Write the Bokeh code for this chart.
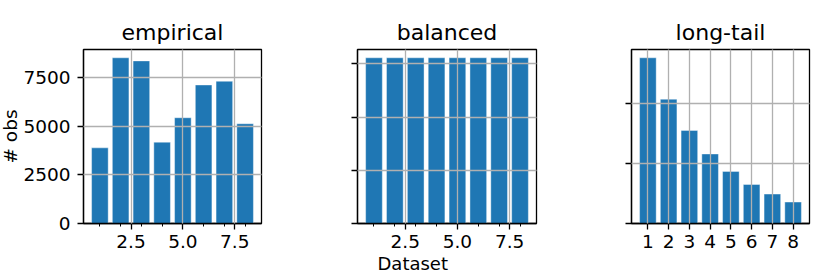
from bokeh.plotting import figure
from bokeh.layouts import row
from bokeh.models import Range1d, FixedTicker, PrintfTickFormatter, CustomJSTickFormatter, Title
from bokeh.embed import file_html
from bokeh.resources import INLINE

datasets = [1, 2, 3, 4, 5, 6, 7, 8]
empirical = [3880, 8500, 8340, 4170, 5425, 7105, 7295, 5117]
balanced = [6230, 6230, 6230, 6230, 6230, 6230, 6230, 6230]
long_tail = [13800, 10350, 7750, 5790, 4340, 3250, 2450, 1785]

titles = ["empirical", "balanced", "long-tail"]
y_ticks = [[0, 2500, 5000, 7500], [0, 2000, 4000, 6000], [0, 5000, 10000]]
x_major_ab = [2.5, 5.0, 7.5]
y_label = "# obs"
x_label = "Dataset"

FONT = "DejaVu Sans"
BAR = "#1f77b4"
GRID = "#b0b0b0"

# (fig width, left border, right border)
geom = [(304, 87, 39), (280, 57, 44), (250, 51, 21)]
H = 277
TOP, BOTTOM = 49, 54


def make(i, values):
    w, bl, br = geom[i]
    p = figure(width=w, height=H, output_backend="svg", toolbar_location=None,
               min_border_left=bl, min_border_right=br,
               min_border_top=TOP, min_border_bottom=BOTTOM,
               x_range=Range1d(0.21, 8.79),
               y_range=Range1d(0, max(values) * 1.05))
    p.vbar(x=datasets, top=values, width=0.8, fill_color=BAR,
           line_color="white", line_width=0.8, line_alpha=0.5)
    p.title.text = titles[i]
    p.title.align = "center"
    p.title.text_font = FONT
    p.title.text_font_size = "22px"
    p.title.text_font_style = "normal"
    p.title.text_color = "black"
    p.title.standoff = 9

    p.outline_line_color = "black"
    p.outline_line_width = 1.3
    p.outline_line_alpha = 1

    for ax in (p.xaxis[0], p.yaxis[0]):
        ax.axis_line_color = "black"
        ax.axis_line_width = 1.3
        ax.major_tick_line_color = "black"
        ax.major_tick_line_width = 1.3
        ax.major_tick_in = 0
        ax.major_tick_out = 6
        ax.minor_tick_line_color = "black"
        ax.minor_tick_line_width = 1.0
        ax.minor_tick_in = 0
        ax.minor_tick_out = 3
        ax.major_label_text_font = FONT
        ax.major_label_text_font_size = "18.5px"
        ax.major_label_text_color = "black"

    if i < 2:
        p.xaxis[0].ticker = FixedTicker(ticks=x_major_ab, minor_ticks=datasets)
        p.xaxis[0].formatter = PrintfTickFormatter(format="%.1f")
    else:
        p.xaxis[0].ticker = FixedTicker(ticks=datasets, minor_ticks=[])
    p.xaxis[0].major_label_standoff = 5

    p.yaxis[0].ticker = FixedTicker(ticks=y_ticks[i], minor_ticks=[])
    p.yaxis[0].major_label_standoff = 7
    if i > 0:
        p.yaxis[0].formatter = CustomJSTickFormatter(code="return ''")

    for g in (p.xgrid[0], p.ygrid[0]):
        g.grid_line_color = GRID
        g.grid_line_width = 1.3
        g.level = "overlay"
    p.background_fill_color = "white"
    p.border_fill_color = "white"
    return p


p1 = make(0, empirical)
p2 = make(1, balanced)
p3 = make(2, long_tail)

p1.add_layout(Title(text=y_label, align="center", text_font=FONT, text_font_size="18.5px",
                    text_font_style="normal", text_color="black", standoff=0), "left")
p2.add_layout(Title(text=x_label, align="left", offset=20, text_font=FONT,
                    text_font_size="18px", text_font_style="normal", text_color="black",
                    standoff=0), "below")

layout = row(p1, p2, p3, margin=(0, 0, 0, -4))

open("out.html", "w").write(file_html(layout, INLINE))
